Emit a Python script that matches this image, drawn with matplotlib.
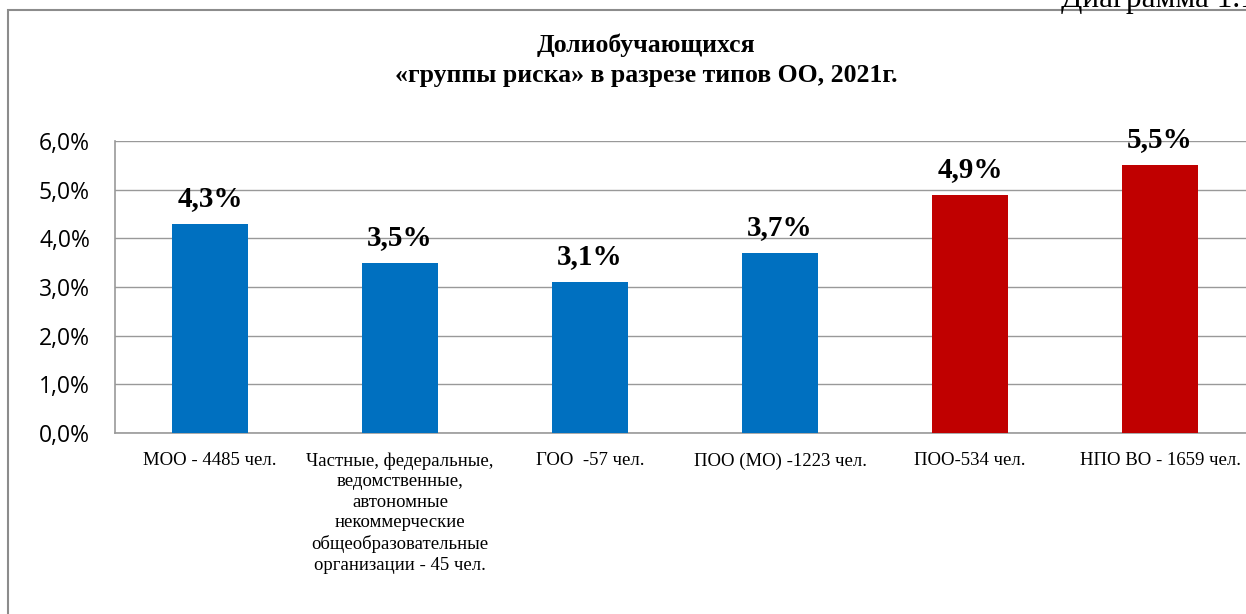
import matplotlib
matplotlib.use("Agg")
import matplotlib.pyplot as plt
from matplotlib.patches import Rectangle
from matplotlib.ticker import FuncFormatter, MultipleLocator

# Category labels (x axis)
CATEGORIES = [
    "МОО - 4485 чел.",
    "Частные, федеральные,\nведомственные,\nавтономные\nнекоммерческие\nобщеобразовательные\nорганизации - 45 чел.",
    "ГОО  -57 чел.",
    "ПОО (МО) -1223 чел.",
    "ПОО-534 чел.",
    "НПО ВО - 1659 чел.",
]
# share of at-risk students, %
VALUES = [4.3, 3.5, 3.1, 3.7, 4.9, 5.5]
BAR_COLORS = ["#0070C0", "#0070C0", "#0070C0", "#0070C0", "#C00000", "#C00000"]

TITLE = "Долиобучающихся\n«группы риска» в разрезе типов ОО, 2021г."
CAPTION = "Диаграмма 1.1"

SERIF = ["Liberation Serif", "DejaVu Serif"]
SANS = ["Open Sans", "Lato", "DejaVu Sans"]

W, H = 1246, 614
fig = plt.figure(figsize=(W / 100, H / 100), dpi=100)

# plot area in pixel coords of the reference
left, right, top, bottom = 115, 1255, 141, 433
ax = fig.add_axes([left / W, 1 - bottom / H, (right - left) / W, (bottom - top) / H])

x = range(len(VALUES))
ax.bar(x, VALUES, width=0.4, color=BAR_COLORS, zorder=3)
ax.set_xlim(-0.5, len(VALUES) - 0.5)
ax.set_ylim(0, 6.0)
ax.yaxis.set_major_locator(MultipleLocator(1.0))
ax.yaxis.set_major_formatter(FuncFormatter(lambda v, _: f"{v:.1f}%".replace(".", ",")))
ax.grid(axis="y", color="#999999", linewidth=1.0, zorder=0)
ax.set_axisbelow(True)

ax.set_xticks(list(x))
ax.set_xticklabels(CATEGORIES, family=SERIF, fontsize=13.5, linespacing=1.27, va="top")
ax.tick_params(axis="x", length=0, pad=14)
ax.tick_params(axis="y", length=0, pad=18, labelsize=16.5)
for lbl in ax.get_yticklabels():
    lbl.set_family(SANS)

for s in ["top", "right"]:
    ax.spines[s].set_visible(False)
for s in ["left", "bottom"]:
    ax.spines[s].set_color("#999999")
    ax.spines[s].set_linewidth(1.2)

for xi, v in zip(x, VALUES):
    ax.annotate(f"{v:.1f}%".replace(".", ","), (xi, v), xytext=(0, 8.5),
                textcoords="offset points", ha="center", va="bottom",
                family=SERIF, fontsize=21, fontweight="bold")

fig.text(646 / W, 1 - 60 / H, TITLE, ha="center", va="center", family=SERIF,
         fontsize=18.5, fontweight="bold", linespacing=1.4)
fig.text(1256 / W, 1 - 7 / H, CAPTION, ha="right", va="baseline",
         family=SERIF, fontsize=22.5)

# outer frame of the chart object (cut off on the right and bottom)
fig.patches.append(Rectangle((8 / W, -0.1), 1.2, 1 - 10 / H + 0.1, fill=False,
                             edgecolor="#8c8c8c", linewidth=1.5,
                             transform=fig.transFigure, figure=fig))

fig.savefig("out.png", dpi=100)
